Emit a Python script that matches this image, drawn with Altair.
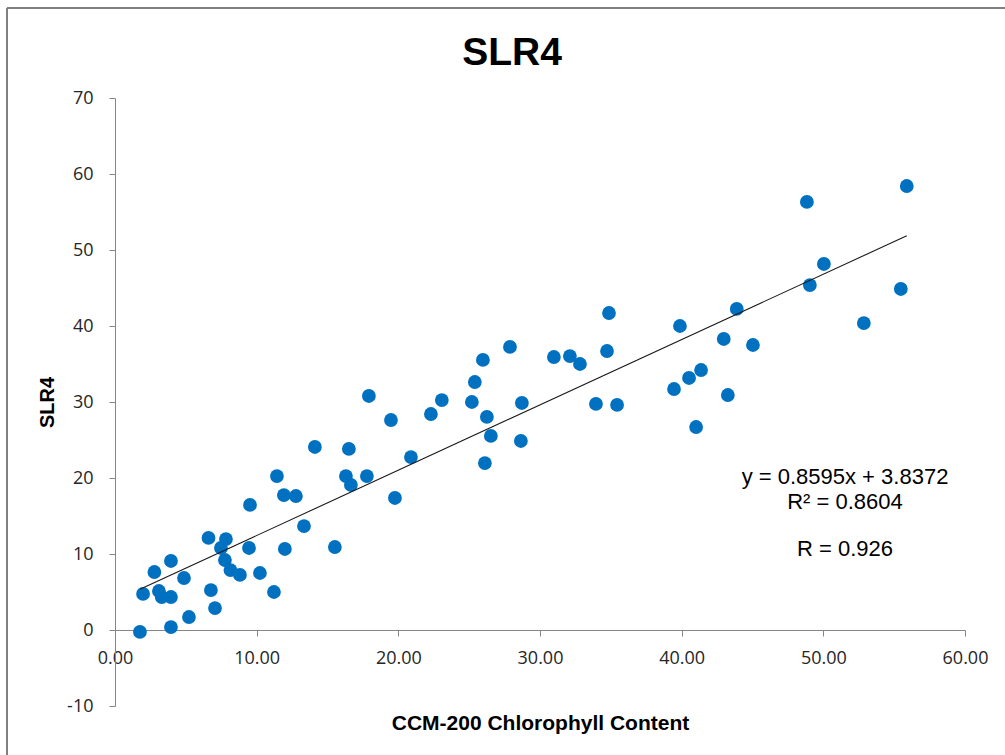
import altair as alt
import pandas as pd

# CCM-200 chlorophyll readings and the matching SLR4 values
ccm = [1.76, 1.98, 2.78, 3.1, 3.3, 3.95, 3.95, 3.95, 4.87, 5.22,
       6.6, 6.77, 7.06, 7.48, 7.83, 7.76, 8.15, 8.82, 9.46, 9.53,
       10.23, 11.22, 11.43, 11.99, 11.92, 12.77, 13.34, 14.11, 15.52, 16.3,
       16.51, 16.65, 17.78, 17.92, 19.48, 19.76, 20.89, 22.3, 23.07, 25.19,
       25.4, 25.97, 26.11, 26.25, 26.53, 27.88, 28.72, 28.65, 30.98, 32.11,
       32.82, 33.95, 34.73, 34.87, 35.44, 39.46, 39.88, 40.52, 41.02, 41.37,
       42.97, 43.26, 43.89, 45.03, 48.84, 49.05, 50.04, 52.86, 55.47, 55.89]
slr4 = [-0.26, 4.74, 7.63, 5.13, 4.34, 9.08, 4.34, 0.39, 6.84, 1.71,
        12.11, 5.26, 2.89, 10.79, 11.97, 9.21, 7.89, 7.24, 10.79, 16.45,
        7.5, 5.0, 20.26, 10.66, 17.76, 17.63, 13.68, 24.08, 10.92, 20.26,
        23.82, 19.08, 20.26, 30.79, 27.63, 17.37, 22.76, 28.42, 30.26, 30.0,
        32.63, 35.53, 21.97, 28.03, 25.53, 37.24, 29.87, 24.87, 35.92, 36.05,
        35.0, 29.74, 36.71, 41.71, 29.61, 31.71, 40.0, 33.16, 26.71, 34.21,
        38.29, 30.92, 42.24, 37.5, 56.32, 45.39, 48.16, 40.39, 44.87, 58.42]

# Linear trend reported for the series
slope = 0.8595
intercept = 3.8372
stats_lines = ["y = 0.8595x + 3.8372", "R² = 0.8604", "R = 0.926"]
chart_title = "SLR4"

x_ticks = [0, 10, 20, 30, 40, 50, 60]
y_ticks = [-10, 0, 10, 20, 30, 40, 50, 60, 70]

points = pd.DataFrame({"ccm": ccm, "slr4": slr4})
x_ends = [min(ccm), max(ccm)]
trend = pd.DataFrame({"ccm": x_ends, "slr4": [slope * v + intercept for v in x_ends]})

axis_grey = "#868686"
label_font = "Open Sans"
bold_font = "Liberation Sans"

x_enc = alt.X(
    "ccm:Q",
    scale=alt.Scale(domain=[0, 60], nice=False, zero=False),
    axis=alt.Axis(
        title="CCM-200 Chlorophyll Content",
        values=x_ticks,
        format=".2f",
        offset=-76,
        grid=False,
        labelFlush=False,
        domainColor=axis_grey,
        tickColor=axis_grey,
        tickSize=6,
        labelPadding=13,
        labelFont=label_font,
        labelFontSize=18,
        labelColor="#262626",
        titleFont=bold_font,
        titleFontSize=21,
        titleFontWeight="bold",
        titleColor="#000000",
        titleX=425,
        titleY=93,
        titleBaseline="middle",
    ),
)
y_enc = alt.Y(
    "slr4:Q",
    scale=alt.Scale(domain=[-10, 70], nice=False, zero=False),
    axis=alt.Axis(
        title="SLR4",
        values=y_ticks,
        labelExpr="'' + datum.value",
        grid=False,
        labelFlush=False,
        domainColor=axis_grey,
        tickColor=axis_grey,
        tickSize=6,
        labelPadding=16,
        labelFont=label_font,
        labelFontSize=18,
        labelColor="#262626",
        titleFont=bold_font,
        titleFontSize=20,
        titleFontWeight="bold",
        titleColor="#000000",
        titleX=-68,
        titleY=304,
        titleAngle=-90,
        titleBaseline="middle",
    ),
)

scatter = alt.Chart(points).mark_circle(size=190, color="#0070C0", opacity=1).encode(
    x=x_enc, y=y_enc
)

trend_line = alt.Chart(trend).mark_line(color="#1a1a1a", strokeWidth=1.1).encode(
    x="ccm:Q", y="slr4:Q"
)

stats_y = [379, 404, 451]
stats = [
    alt.Chart(pd.DataFrame({"t": [txt]})).mark_text(
        font=bold_font, fontSize=22, color="#000000", align="center", baseline="middle"
    ).encode(x=alt.value(730), y=alt.value(yy), text="t:N")
    for txt, yy in zip(stats_lines, stats_y)
]

title_mark = alt.Chart(pd.DataFrame({"t": [chart_title]})).mark_text(
    font=bold_font, fontSize=39, fontWeight="bold", color="#000000",
    align="center", baseline="alphabetic",
).encode(x=alt.value(397), y=alt.value(-33), text="t:N")

frame_color = "#808080"
frame_left = alt.Chart(points).mark_rule(color=frame_color, strokeWidth=2).encode(
    x=alt.value(-108), y=alt.value(-90), y2=alt.value(700)
)
frame_top = alt.Chart(points).mark_rule(color=frame_color, strokeWidth=2).encode(
    y=alt.value(-90), x=alt.value(-108), x2=alt.value(900)
)

chart = alt.layer(frame_left, frame_top, scatter, trend_line, *stats, title_mark).properties(
    width=850,
    height=608,
    autosize=alt.AutoSizeParams(type="none"),
    padding={"left": 115, "top": 98, "right": 40, "bottom": 49},
    background="#ffffff",
).configure_view(stroke=None)

chart.save("out.html", embed_options={"renderer": "svg", "actions": False})
